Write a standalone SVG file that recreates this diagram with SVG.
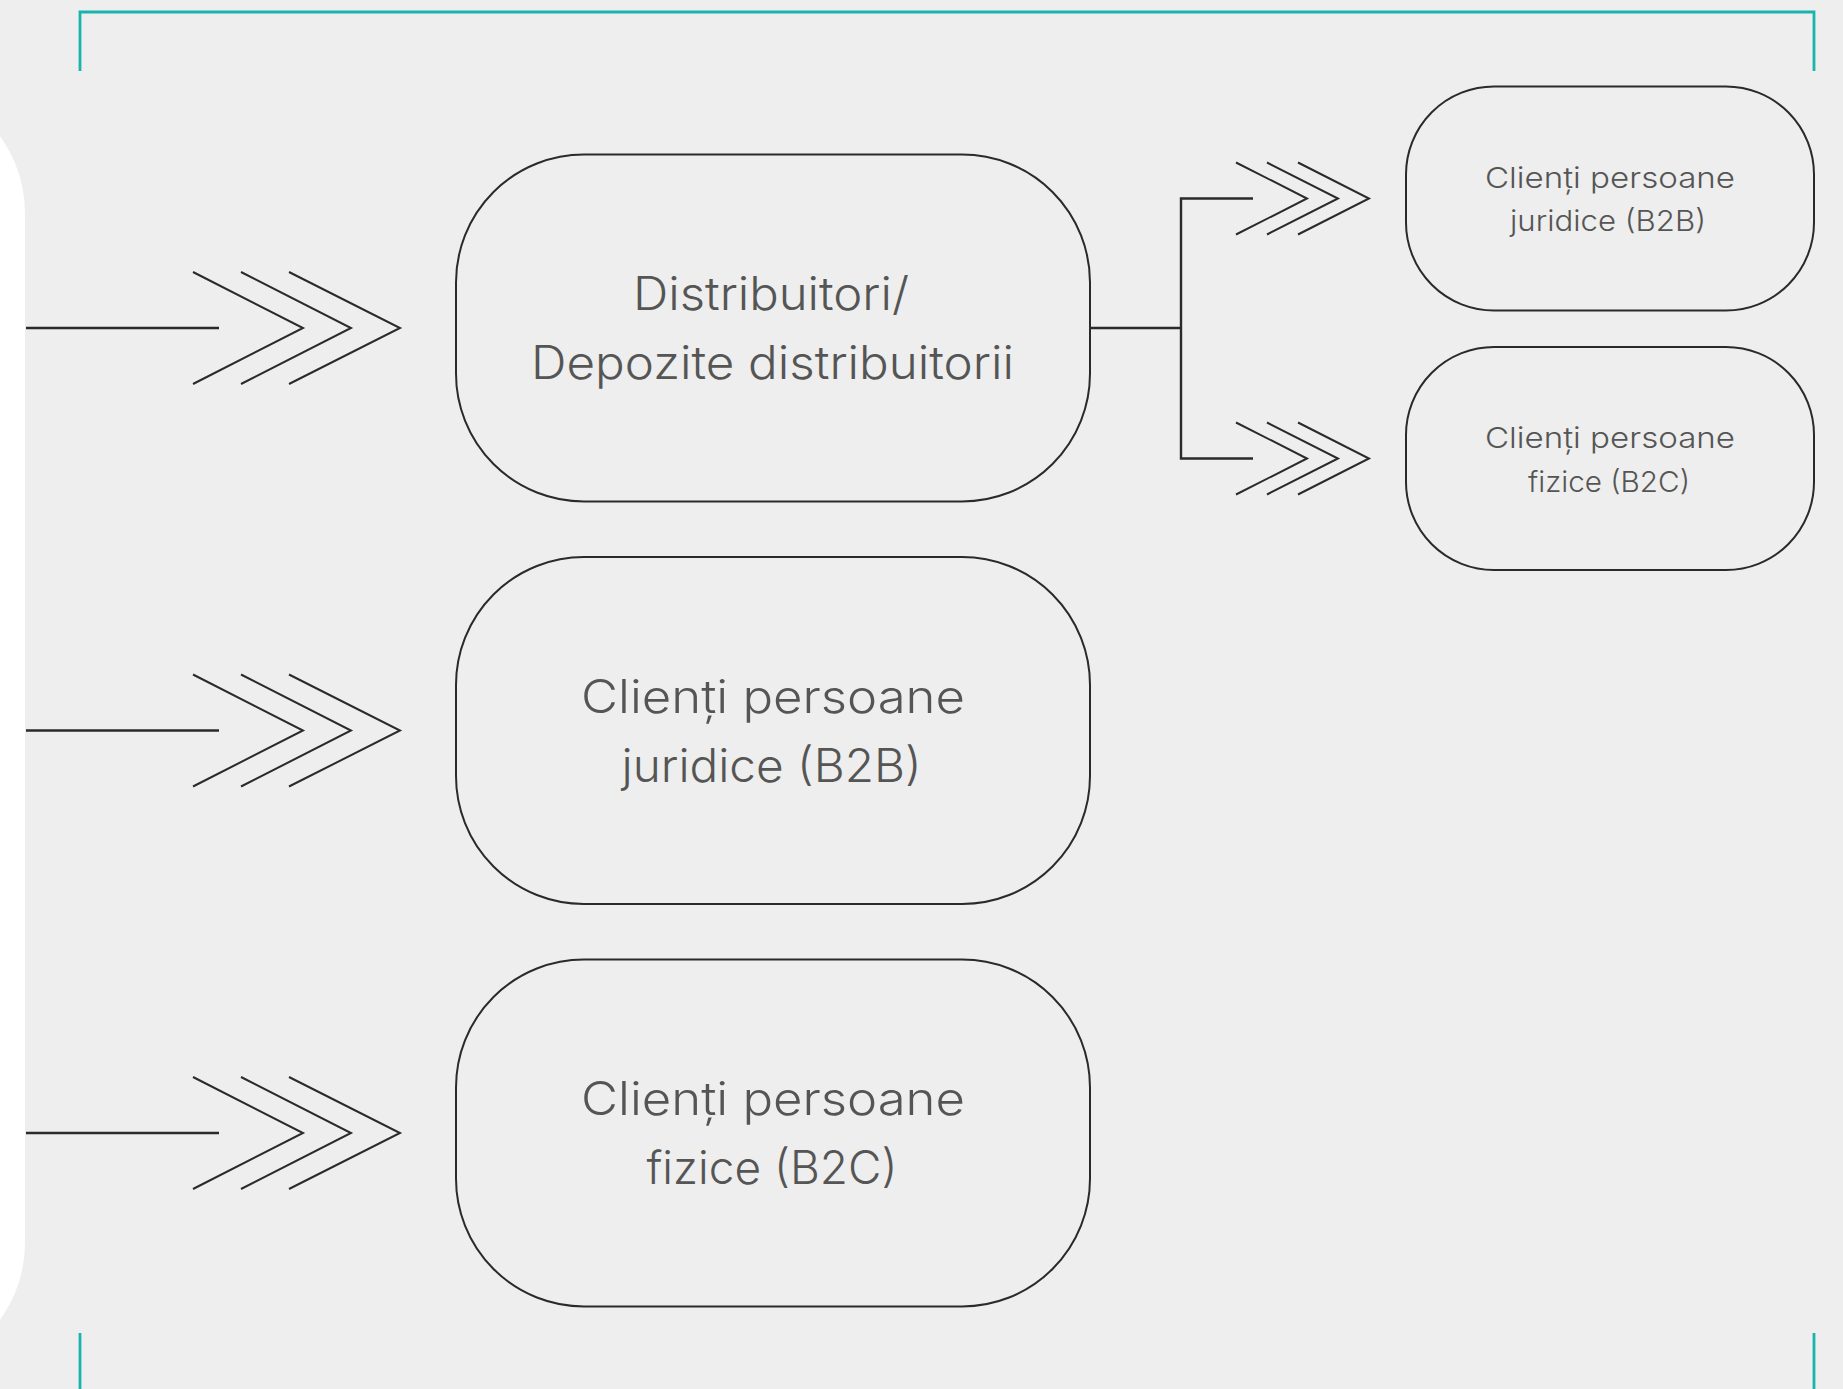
<svg xmlns="http://www.w3.org/2000/svg" width="1843" height="1389" viewBox="0 0 1843 1389">
<defs>
<style>
.bg{fill:#edeeed}
.panel{fill:#ffffff}
.teal{stroke:#1ab3ad;stroke-width:2.8;fill:none}
.box{fill:none;stroke:#2a2a2a;stroke-width:2}
.ln{stroke:#2a2a2a;stroke-width:2.4;fill:none}
.chev{stroke:#2a2a2a;stroke-width:2;fill:none}
.tb{font-family:Inter,"Open Sans","Liberation Sans",sans-serif;font-weight:300;font-size:46px;fill:#555555;text-anchor:middle}
.ts{font-family:Inter,"Open Sans","Liberation Sans",sans-serif;font-weight:300;font-size:29px;fill:#555555;text-anchor:middle}
</style>
<g id="chevL">
<path class="chev" d="M193,-56 L303,0 L193,56 M241,-56 L351,0 L241,56 M289,-56 L400,0 L289,56"/>
</g>
<g id="chevS">
<path class="chev" d="M1236,-36 L1307,0 L1236,36 M1267,-36 L1338,0 L1267,36 M1298,-36 L1369,0 L1298,36"/>
</g>
</defs>
<rect class="bg" x="0" y="0" width="1843" height="1389"/>
<rect class="panel" x="-300" y="83" width="325" height="1290" rx="130" ry="130"/>
<g id="frame">
<path class="teal" d="M80,71 V12 H1814 V71"/>
<path class="teal" d="M80,1333 V1389 M1814,1333 V1389"/>
</g>
<g id="connectors">
<line class="ln" x1="26" y1="328" x2="219" y2="328"/>
<use href="#chevL" transform="translate(0,328)"/>
<line class="ln" x1="26" y1="730.5" x2="219" y2="730.5"/>
<use href="#chevL" transform="translate(0,730.5)"/>
<line class="ln" x1="26" y1="1133" x2="219" y2="1133"/>
<use href="#chevL" transform="translate(0,1133)"/>
<path class="ln" d="M1090,328 H1181 M1253,198.5 H1181 V458.5 H1253"/>
<use href="#chevS" transform="translate(0,198.5)"/>
<use href="#chevS" transform="translate(0,458.5)"/>
</g>
<g id="node-distribuitori">
<rect class="box" x="456" y="154.5" width="634" height="347" rx="128" ry="128"/>
<text class="tb" x="771" y="310" textLength="276" lengthAdjust="spacingAndGlyphs">Distribuitori/</text>
<text class="tb" x="772.5" y="379" textLength="483" lengthAdjust="spacingAndGlyphs">Depozite distribuitorii</text>
</g>
<g id="node-b2b">
<rect class="box" x="456" y="557" width="634" height="347" rx="128" ry="128"/>
<text class="tb" x="773" y="712.5" textLength="384" lengthAdjust="spacingAndGlyphs">Clienți persoane</text>
<text class="tb" x="771.5" y="781.5" textLength="300" lengthAdjust="spacingAndGlyphs">juridice (B2B)</text>
</g>
<g id="node-b2c">
<rect class="box" x="456" y="959.5" width="634" height="347" rx="128" ry="128"/>
<text class="tb" x="773" y="1115" textLength="384" lengthAdjust="spacingAndGlyphs">Clienți persoane</text>
<text class="tb" x="772" y="1184" textLength="251" lengthAdjust="spacingAndGlyphs">fizice (B2C)</text>
</g>
<g id="node-b2b-small">
<rect class="box" x="1406" y="86.5" width="408" height="224" rx="88" ry="88"/>
<text class="ts" x="1610" y="187.5" textLength="250" lengthAdjust="spacingAndGlyphs">Clienți persoane</text>
<text class="ts" x="1608" y="231" textLength="196" lengthAdjust="spacingAndGlyphs">juridice (B2B)</text>
</g>
<g id="node-b2c-small">
<rect class="box" x="1406" y="347" width="408" height="223" rx="88" ry="88"/>
<text class="ts" x="1610" y="448" textLength="250" lengthAdjust="spacingAndGlyphs">Clienți persoane</text>
<text class="ts" x="1609" y="491.5" textLength="162" lengthAdjust="spacingAndGlyphs">fizice (B2C)</text>
</g>
</svg>
